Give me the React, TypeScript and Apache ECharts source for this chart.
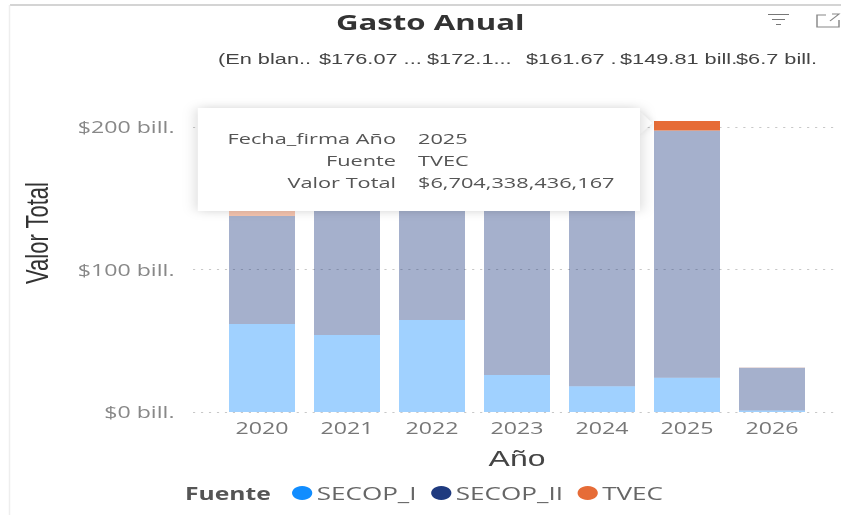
import React, { useEffect, useRef } from "react";
import * as echarts from "echarts";

const years = ["2020", "2021", "2022", "2023", "2024", "2025", "2026"];
const secopI = [61.8, 54, 64.5, 26, 18, 24, 1];
const secopII = [75.7, 119, 104, 133, 129, 173.5, 30];
const tvec = [6, 3, 3.6, 2.7, 2.8, 6.7, 0.3];
const highlighted = [null, null, null, null, null, 6.7, null];
const topLabels = ["(En blan..", "$176.07 ...", "$172.1...", "$161.67 .", "$149.81 bill.", "$6.7 bill."];
const topLabelX = [218, 319, 427, 526, 620, 736];
const tipKeys = ["Fecha_firma Año", "Fuente", "Valor Total"];
const tipVals = ["2025", "TVEC", "$6,704,338,436,167"];

// The reference is stretched horizontally: the chart is drawn narrower and widened as a whole.
const S = 1.45;
const X = (v: number) => v / S;
const FONT = "'Open Sans'";
const Y0 = 412;
const PX = 1.425;
const YMAX = 210;
const TOP = Y0 - YMAX * PX;
const H = YMAX * PX;

const stroke = (color: string) => ({ stroke: color, lineWidth: 1, fill: "none" });
const hLine = (x1: number, x2: number, y: number, color: string) => ({
  type: "line",
  shape: { x1: X(x1), y1: y, x2: X(x2), y2: y },
  style: stroke(color),
});

export default function App() {
  const ref = useRef<HTMLDivElement>(null);
  useEffect(() => {
    document.body.style.margin = "0";
    document.body.style.overflow = "hidden";
    const chart = echarts.init(ref.current!, null, { renderer: "svg" });
    const mk = (name: string, data: number[], color: string) => ({
      name,
      type: "bar",
      stack: "t",
      barWidth: X(66),
      xAxisIndex: 0,
      yAxisIndex: 0,
      itemStyle: { color },
      z: 3,
      data: data.map((v, i) => ({
        value: v,
        itemStyle: { color, opacity: name === "TVEC" && highlighted[i] !== null ? 1 : 0.4 },
      })),
    });
    const yBase = { type: "value", min: 0, max: YMAX, interval: 100 };
    chart.setOption({
      animation: false,
      backgroundColor: "#fff",
      title: {
        text: "Gasto Anual",
        left: X(423),
        textAlign: "center",
        top: 6,
        textStyle: { fontFamily: FONT, fontWeight: "bold", fontSize: 21.5, color: "#333" },
      },
      grid: [
        { left: X(219.5), width: X(595), top: TOP, height: H },
        { left: X(193), width: X(642), top: TOP, height: H },
      ],
      xAxis: [
        {
          type: "category",
          gridIndex: 0,
          data: years,
          name: "Año",
          nameLocation: "middle",
          nameGap: 35,
          nameTextStyle: { fontFamily: "'Liberation Sans'", fontSize: 22, color: "#444" },
          axisLine: { show: false },
          axisTick: { show: false },
          axisLabel: { fontFamily: FONT, fontSize: 16, color: "#777", margin: 8 },
        },
        { type: "value", gridIndex: 1, show: false, min: 0, max: 1 },
      ],
      yAxis: [
        {
          ...yBase,
          gridIndex: 0,
          splitLine: { show: false },
          axisLine: { show: false },
          axisTick: { show: false },
          axisLabel: {
            showMaxLabel: false,
            fontFamily: FONT,
            fontSize: 16,
            color: "#888",
            margin: X(45),
            formatter: (v: number) => `$${v} bill.`,
          },
        },
        {
          ...yBase,
          gridIndex: 1,
          axisLine: { show: false },
          axisTick: { show: false },
          axisLabel: { show: false },
          splitLine: {
            show: true,
            showMaxLine: false,
            showMinLine: true,
            lineStyle: { color: "#c8c8c8", type: [1.5, 4], width: 1 },
          },
        },
      ],
      legend: {
        left: X(292) - 5,
        top: 479,
        icon: "circle",
        itemWidth: 14,
        itemHeight: 14,
        itemGap: 10,
        textStyle: { fontFamily: FONT, fontSize: 18, color: "#666", padding: [0, 0, 0, -2] },
        data: ["SECOP_I", "SECOP_II", "TVEC"],
      },
      graphic: [
        {
          type: "text",
          x: X(185),
          y: 493,
          style: { text: "Fuente", font: `bold 17px ${FONT}`, fill: "#555", textVerticalAlign: "middle" },
        },
        {
          type: "text",
          x: X(37),
          y: 233,
          rotation: Math.PI / 2,
          style: {
            text: "Valor Total",
            font: "22px 'Liberation Sans'",
            fill: "#333",
            textAlign: "center",
            textVerticalAlign: "middle",
          },
        },
        ...topLabels.map((t, i) => ({
          type: "text",
          x: X(topLabelX[i]),
          y: 59,
          style: { text: t, font: "15px 'Liberation Sans'", fill: "#444", textVerticalAlign: "middle" },
        })),
        hLine(10, 841, 5, "#aaa"),
        { type: "line", shape: { x1: X(9.5), y1: 5, x2: X(9.5), y2: 515 }, style: stroke("#eee") },
        hLine(768, 789, 14.5, "#777"),
        hLine(772, 785, 19.5, "#777"),
        hLine(776, 781, 24.5, "#777"),
        {
          type: "polyline",
          shape: { points: [[X(826), 15], [X(817), 15], [X(817), 27], [X(839), 27], [X(839), 20]] },
          style: stroke("#888"),
        },
        {
          type: "polyline",
          shape: { points: [[X(830), 21], [X(839), 14], [X(832), 14]] },
          style: stroke("#888"),
        },
        {
          type: "group",
          z: 100,
          children: [
            {
              type: "polygon",
              z: 100,
              shape: { points: [[X(640), 112], [X(652), 123], [X(640), 134]] },
              style: { fill: "#fff", shadowBlur: 6, shadowColor: "rgba(0,0,0,0.15)" },
            },
            {
              type: "rect",
              z: 101,
              shape: { x: X(198), y: 108, width: X(442), height: 103 },
              style: { fill: "#fff", shadowBlur: 10, shadowColor: "rgba(0,0,0,0.18)" },
            },
            ...tipKeys.map((t, i) => ({
              type: "text",
              z: 102,
              x: X(396),
              y: 138 + i * 22,
              style: { text: t, font: `15px ${FONT}`, fill: "#555", textAlign: "right", textVerticalAlign: "middle" },
            })),
            ...tipVals.map((t, i) => ({
              type: "text",
              z: 102,
              x: X(418),
              y: 138 + i * 22,
              style: { text: t, font: `15px ${FONT}`, fill: "#555", textAlign: "left", textVerticalAlign: "middle" },
            })),
          ],
        },
      ],
      series: [
        mk("SECOP_I", secopI, "#118DFF"),
        mk("SECOP_II", secopII, "#1F3A7F"),
        mk("TVEC", tvec, "#E66C37"),
      ],
    });
    return () => chart.dispose();
  }, []);
  return (
    <div
      ref={ref}
      style={{
        position: "absolute",
        left: 0,
        top: 0,
        width: 841 / S,
        height: 515,
        transform: `scaleX(${S})`,
        transformOrigin: "0 0",
      }}
    />
  );
}
